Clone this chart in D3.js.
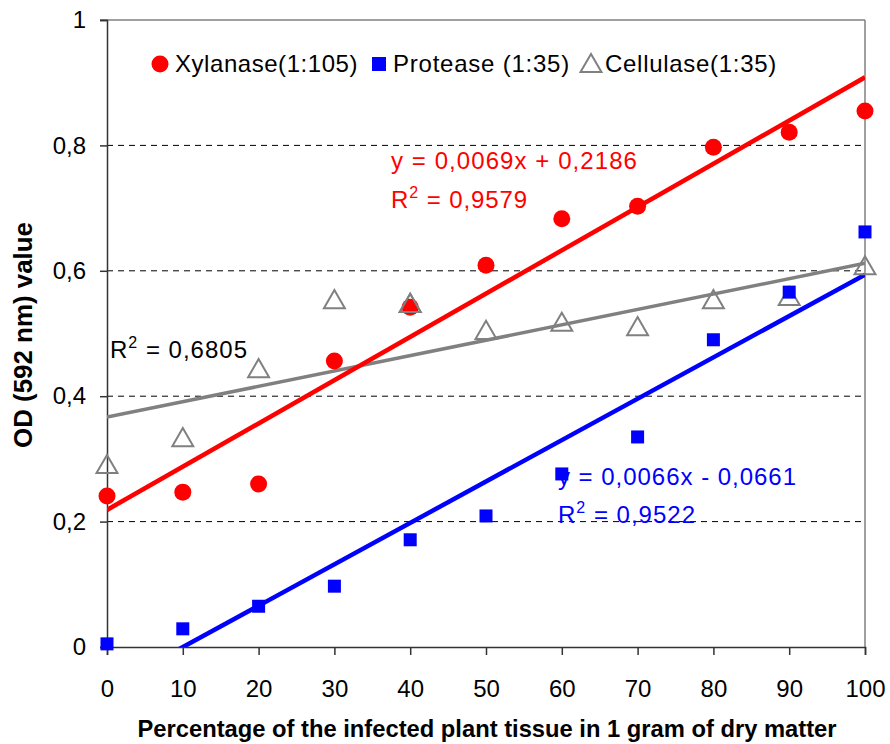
<!DOCTYPE html>
<html>
<head>
<meta charset="utf-8">
<script src="https://cdn.jsdelivr.net/npm/d3@7"></script>
<style>
  html, body { margin: 0; padding: 0; background: #fff; }
  svg { display: block; font-family: "Liberation Sans", Arial, sans-serif; }
</style>
</head>
<body>
<svg id="chart" width="890" height="744"></svg>
<script>
// Percentage of infected tissue (x) and OD readings per enzyme
const percentages = [0, 10, 20, 30, 40, 50, 60, 70, 80, 90, 100];
const xylanase  = [0.241, 0.247, 0.260, 0.456, 0.542, 0.609, 0.683, 0.703, 0.797, 0.821, 0.855];
const protease  = [0.005, 0.029, 0.065, 0.097, 0.171, 0.209, 0.276, 0.335, 0.490, 0.566, 0.662];
const cellulase = [0.287, 0.330, 0.440, 0.550, 0.544, 0.501, 0.514, 0.507, 0.550, 0.555, 0.604];

// Published linear trend coefficients [slope, intercept]
const xylanaseFit = [0.0069, 0.2186];
const proteaseFit = [0.0066, -0.0661];

const xTicks = [0, 10, 20, 30, 40, 50, 60, 70, 80, 90, 100];
const yTicks = [0, 0.2, 0.4, 0.6, 0.8, 1];
const gridTicks = [0.2, 0.4, 0.6, 0.8];

const FS = 24;

const svg = d3.select("#chart");
const m = { left: 107, right: 865, top: 20, bottom: 647 };

const x = d3.scaleLinear().domain([0, 100]).range([m.left, m.right]);
const y = d3.scaleLinear().domain([0, 1]).range([m.bottom, m.top]);

const fmt = d => d === 0 ? "0" : d === 1 ? "1" : d3.format(".1f")(d).replace(".", ",");

// Least-squares fit for the cellulase series
function linFit(xs, ys) {
  const mx = d3.mean(xs), my = d3.mean(ys);
  const sxy = d3.sum(xs, (v, i) => (v - mx) * (ys[i] - my));
  const sxx = d3.sum(xs, v => (v - mx) * (v - mx));
  const slope = sxy / sxx;
  return [slope, my - slope * mx];
}
const cellulaseFit = linFit(percentages, cellulase);

// Widen a text run to a given width by spreading its letters
function spreadTo(sel, width) {
  const node = sel.node();
  const len = node.getComputedTextLength();
  const n = node.textContent.length;
  if (n > 1) sel.attr("letter-spacing", ((width - len) / n).toFixed(3));
  return sel;
}

svg.append("defs").append("clipPath").attr("id", "plotClip")
  .append("rect").attr("x", m.left).attr("y", m.top)
  .attr("width", m.right - m.left).attr("height", m.bottom - m.top);

// Dashed gridlines
svg.append("g").selectAll("line").data(gridTicks).join("line")
  .attr("x1", m.left).attr("x2", m.right)
  .attr("y1", d => y(d)).attr("y2", d => y(d))
  .attr("stroke", "#000").attr("stroke-width", 1).attr("stroke-dasharray", "6,5");

// Top and right frame
svg.append("line").attr("x1", m.left - 7).attr("x2", m.right).attr("y1", y(1)).attr("y2", y(1))
  .attr("stroke", "#808080").attr("stroke-width", 1.5);
svg.append("line").attr("x1", m.right).attr("x2", m.right).attr("y1", m.top).attr("y2", m.bottom)
  .attr("stroke", "#808080").attr("stroke-width", 1.5);

// Axes
const yAxis = svg.append("g").attr("transform", `translate(${m.left},0)`)
  .call(d3.axisLeft(y).tickValues(yTicks).tickFormat(fmt).tickSize(7).tickPadding(14));
const xAxis = svg.append("g").attr("transform", `translate(0,${m.bottom})`)
  .call(d3.axisBottom(x).tickValues(xTicks).tickSize(8).tickPadding(25));
[yAxis, xAxis].forEach(a => {
  a.select(".domain").attr("stroke", "#333").attr("stroke-width", 1.5);
  a.selectAll(".tick line").attr("stroke", "#333").attr("stroke-width", 1.5);
  a.selectAll(".tick text").attr("fill", "#000").style("font-size", FS + "px")
    .style("font-family", "'Liberation Sans', Arial, sans-serif");
});

// Trend lines
const trends = [
  { fit: cellulaseFit, color: "#808080", width: 3.5 },
  { fit: xylanaseFit, color: "#ff0000", width: 4.5 },
  { fit: proteaseFit, color: "#0000ff", width: 4.5 }
];
const line = d3.line().x(d => x(d[0])).y(d => y(d[1]));
svg.append("g").attr("clip-path", "url(#plotClip)").selectAll("path").data(trends).join("path")
  .attr("d", t => line([[0, t.fit[1]], [100, t.fit[0] * 100 + t.fit[1]]]))
  .attr("fill", "none").attr("stroke", t => t.color).attr("stroke-width", t => t.width);

// Markers
const triangle = d3.symbol().type(d3.symbolTriangle).size(190);
svg.append("g").selectAll("path").data(percentages).join("path")
  .attr("transform", (d, i) => `translate(${x(d)},${y(cellulase[i])})`)
  .attr("d", triangle).attr("fill", "none").attr("stroke", "#808080").attr("stroke-width", 2);
svg.append("g").selectAll("circle").data(percentages).join("circle")
  .attr("cx", d => x(d)).attr("cy", (d, i) => y(xylanase[i])).attr("r", 8.5).attr("fill", "#ff0000");
svg.append("g").selectAll("rect").data(percentages).join("rect")
  .attr("x", d => x(d) - 6.5).attr("y", (d, i) => y(protease[i]) - 6.5)
  .attr("width", 13).attr("height", 13).attr("fill", "#0000ff");

// The 40% triangle sits over the red circle
svg.append("path").attr("transform", `translate(${x(40)},${y(cellulase[4])})`)
  .attr("d", triangle).attr("fill", "none").attr("stroke", "#808080").attr("stroke-width", 2);

// Equation and R² labels
function eqLabel(tx, ty, color, text, width) {
  const t = svg.append("text").attr("x", tx).attr("y", ty).attr("fill", color)
    .style("font-size", FS + "px").text(text);
  spreadTo(t, width);
}
function r2Label(tx, ty, color, value, width) {
  const t = svg.append("text").attr("x", tx).attr("y", ty).attr("fill", color).style("font-size", FS + "px");
  t.append("tspan").text("R");
  t.append("tspan").attr("dy", -10).style("font-size", "16px").text("2");
  t.append("tspan").attr("dy", 10).text(" = " + value);
  spreadTo(t, width);
}
eqLabel(391, 169, "#ff0000", "y = 0,0069x + 0,2186", 247);
r2Label(391, 208, "#ff0000", "0,9579", 137);
eqLabel(558, 485, "#0000ff", "y = 0,0066x - 0,0661", 239);
r2Label(558, 523, "#0000ff", "0,9522", 138);
r2Label(110, 358, "#000", "0,6805", 138);

// Legend
const lg = svg.append("g");
lg.append("circle").attr("cx", 160).attr("cy", 64).attr("r", 8.5).attr("fill", "#ff0000");
spreadTo(lg.append("text").attr("x", 175).attr("y", 72).style("font-size", FS + "px").text("Xylanase(1:105)"), 183);
lg.append("rect").attr("x", 372).attr("y", 57).attr("width", 14).attr("height", 14).attr("fill", "#0000ff");
spreadTo(lg.append("text").attr("x", 393).attr("y", 72).style("font-size", FS + "px").text("Protease (1:35)"), 177);
lg.append("path").attr("transform", "translate(591,66)").attr("d", triangle)
  .attr("fill", "none").attr("stroke", "#808080").attr("stroke-width", 2);
spreadTo(lg.append("text").attr("x", 605).attr("y", 72).style("font-size", FS + "px").text("Cellulase(1:35)"), 172);

// Axis titles
svg.append("text").attr("transform", "translate(32,335) rotate(-90)")
  .attr("text-anchor", "middle").style("font-size", "25px").style("font-weight", "bold")
  .attr("textLength", 226).attr("lengthAdjust", "spacingAndGlyphs")
  .text("OD (592 nm) value");
svg.append("text").attr("x", 487).attr("y", 737).attr("text-anchor", "middle")
  .style("font-size", "24px").style("font-weight", "bold")
  .attr("textLength", 699).attr("lengthAdjust", "spacingAndGlyphs")
  .text("Percentage of the infected plant tissue in 1 gram of dry matter");
</script>
</body>
</html>
